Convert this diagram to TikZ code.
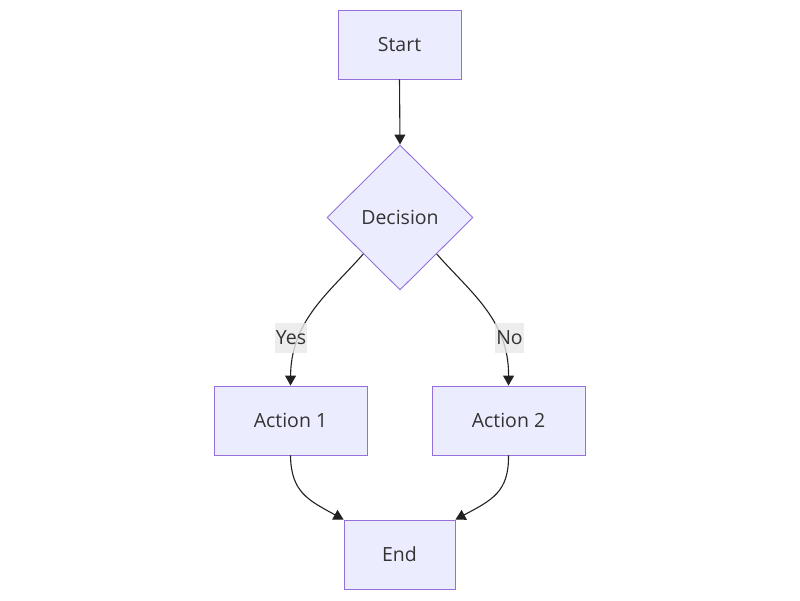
\documentclass[tikz,border=0pt]{standalone}
\usepackage{fontspec}
\setmainfont{Open Sans}
\usetikzlibrary{arrows.meta,shapes.geometric}
\definecolor{nodefill}{HTML}{ECECFF}
\definecolor{nodeline}{HTML}{9370DB}
\definecolor{ink}{HTML}{333333}
\definecolor{edgeink}{HTML}{222222}
\definecolor{lblfill}{HTML}{E8E8E8}
\newcommand{\flow}{\fontsize{19.5}{22}\selectfont}
\begin{document}
\begin{tikzpicture}[x=1pt,y=-1pt,font=\flow,
  box/.style={draw=nodeline,fill=nodefill,line width=0.9pt,text=ink,minimum height=69pt,inner sep=0},
  choice/.style={box,diamond,minimum width=146pt,minimum height=145pt},
  edge/.style={draw=edgeink,line width=1.1pt,-{Triangle[length=10pt,width=11pt]}},
  lbl/.style={fill=lblfill,fill opacity=0.8,text opacity=1,text=ink,inner sep=1pt,minimum height=30pt}]
\useasboundingbox (0,0) rectangle (800,600);
\node[box,minimum width=123pt] (start) at (399.5,44.5) {Start};
\node[choice] (dec) at (400,217.5) {Decision};
\node[box,minimum width=153pt] (act1) at (290.5,420.5) {Action 1};
\node[box,minimum width=153pt] (act2) at (508.5,420.5) {Action 2};
\node[box,minimum width=111pt] (end) at (399.5,554.5) {End};
\draw[edge] (start.south) -- (dec.north);
\draw[edge] (dec.south west) .. controls (330,292) and (291,320) .. (act1.north);
\draw[edge] (dec.south east) .. controls (470,292) and (509,320) .. (act2.north);
\draw[edge] (act1.south) .. controls (291,492) and (308,500) .. (end.north west);
\draw[edge] (act2.south) .. controls (509,492) and (492,500) .. (end.north east);
\node[lbl,minimum width=30pt] (yes) at (291,338) {Yes};
\node[lbl,minimum width=25pt] (no) at (509.5,338) {No};
\end{tikzpicture}
\end{document}
